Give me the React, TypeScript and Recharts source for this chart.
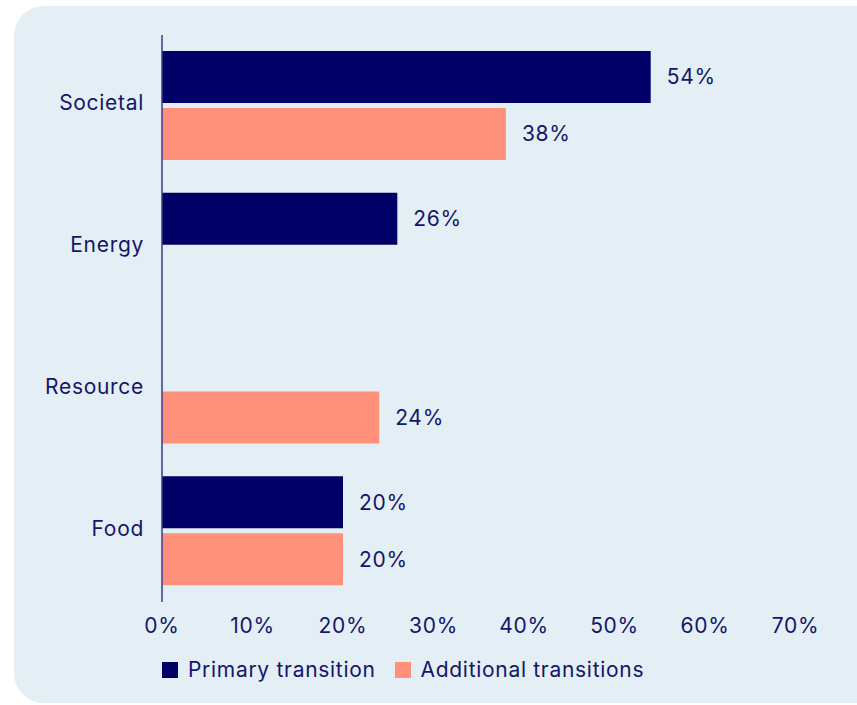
import React from "react";
import { BarChart, Bar, XAxis, YAxis, Legend, LabelList } from "recharts";

const categories = ["Societal", "Energy", "Resource", "Food"];
const primaryValues: (number | null)[] = [54, 26, null, 20];
const additionalValues: (number | null)[] = [38, null, 24, 20];
const xTicks = [0, 10, 20, 30, 40, 50, 60, 70];
const seriesNames = ["Primary transition", "Additional transitions"];

const NAVY = "#000066";
const SALMON = "#ff917a";
const TEXT = "#15156b";
const FONT = "Inter, 'Noto Sans', sans-serif";
const FS = 21;
const LS = 0.7;

const data = categories.map((c, i) => ({
  name: c,
  primary: primaryValues[i],
  additional: additionalValues[i],
}));

const YTick = (props: any) => {
  const { x, y, payload } = props;
  return (
    <text x={x} y={y - 3} dy="0.355em" textAnchor="end" fill={TEXT} fontSize={FS} fontFamily={FONT} style={{ letterSpacing: LS }}>
      {payload.value}
    </text>
  );
};

const XTick = (props: any) => {
  const { x, y, payload } = props;
  return (
    <text x={x} y={y} dy="0.71em" textAnchor="middle" fill={TEXT} fontSize={FS} fontFamily={FONT} style={{ letterSpacing: LS }}>
      {`${payload.value}%`}
    </text>
  );
};

const BarLabel = (props: any) => {
  const { x, y, width, height, value } = props;
  if (value === null || value === undefined) return null;
  return (
    <text x={x + width + 16} y={y + height / 2} dy="0.355em" textAnchor="start" fill={TEXT} fontSize={FS} fontFamily={FONT} style={{ letterSpacing: LS }}>
      {value}%
    </text>
  );
};

const LegendContent = () => {
  const colors = [NAVY, SALMON];
  return (
    <div style={{ display: "flex", alignItems: "center", fontFamily: FONT, fontSize: FS, color: TEXT, whiteSpace: "nowrap", letterSpacing: LS }}>
      {seriesNames.map((n, i) => (
        <div key={n} style={{ display: "flex", alignItems: "center", marginRight: 19 }}>
          <div style={{ width: 16, height: 16, background: colors[i], marginRight: 10 }} />
          <span>{n}</span>
        </div>
      ))}
    </div>
  );
};

export default function App() {
  return (
    <div style={{ position: "absolute", left: 0, top: 0, width: 857, height: 705, overflow: "hidden", background: "#ffffff" }}>
      <div style={{ position: "absolute", left: 14, top: 6, width: 900, height: 697, borderRadius: 30, background: "#e3eff4" }} />
      <div style={{ position: "absolute", left: 0, top: 0 }}>
        <BarChart
          width={857}
          height={705}
          data={data}
          layout="vertical"
          margin={{ top: 35, right: 61.5, left: 0, bottom: 73 }}
          barSize={52}
          barGap={5}
        >
          <XAxis
            type="number"
            domain={[0, 70]}
            ticks={xTicks}
            axisLine={false}
            tickLine={false}
            tickSize={0}
            tickMargin={16}
            height={30}
            interval={0}
            tick={<XTick />}
          />
          <YAxis
            type="category"
            dataKey="name"
            width={162}
            axisLine={{ stroke: "#3b3b8f", strokeWidth: 1.5 }}
            tickLine={false}
            tick={<YTick />}
            tickSize={6}
            tickMargin={12}
          />
          <Legend
            layout="horizontal"
            verticalAlign="middle"
            align="center"
            wrapperStyle={{ left: 162, top: 657, width: 650 }}
            content={<LegendContent />}
          />
          <Bar dataKey="primary" name={seriesNames[0]} fill={NAVY} isAnimationActive={false}>
            <LabelList dataKey="primary" content={<BarLabel />} />
          </Bar>
          <Bar dataKey="additional" name={seriesNames[1]} fill={SALMON} isAnimationActive={false}>
            <LabelList dataKey="additional" content={<BarLabel />} />
          </Bar>
        </BarChart>
      </div>
    </div>
  );
}
